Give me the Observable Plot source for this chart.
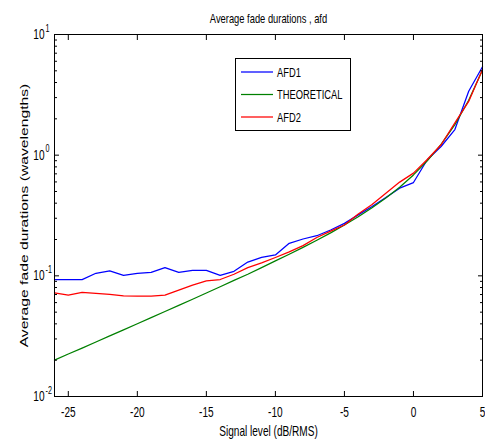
<!DOCTYPE html>
<html>
<head>
<meta charset="utf-8">
<script src="https://cdn.jsdelivr.net/npm/d3@7"></script>
<script src="https://cdn.jsdelivr.net/npm/@observablehq/plot@0.6"></script>
<style>
  html, body { margin: 0; padding: 0; background: #fff; }
  svg { display: block; }
</style>
</head>
<body>
<div id="chart"></div>
<script>
const signalLevel = [-26,-25,-24,-23,-22,-21,-20,-19,-18,-17,-16,-15,-14,-13,-12,-11,-10,-9,-8,-7,-6,-5,-4,-3,-2,-1,0,1,2,3,4,5];
const afd1 = [0.093,0.093,0.093,0.105,0.110,0.101,0.105,0.107,0.117,0.107,0.111,0.111,0.101,0.109,0.130,0.142,0.149,0.186,0.202,0.215,0.240,0.272,0.320,0.375,0.445,0.533,0.593,0.916,1.18,1.63,3.39,5.40];
const theoretical = [0.0200,0.0225,0.0252,0.0283,0.0318,0.0357,0.0401,0.0451,0.0506,0.0569,0.0640,0.0721,0.0812,0.0916,0.103,0.117,0.133,0.151,0.172,0.197,0.227,0.264,0.309,0.367,0.442,0.543,0.686,0.897,1.23,1.79,2.85,5.08];
const afd2 = [0.0722,0.0691,0.0728,0.0714,0.0702,0.0682,0.0678,0.0678,0.0691,0.0761,0.0838,0.0908,0.0932,0.103,0.117,0.128,0.142,0.158,0.178,0.208,0.235,0.264,0.326,0.390,0.484,0.598,0.710,0.920,1.22,1.85,2.79,5.13];

const seriesNames = ["AFD1", "THEORETICAL", "AFD2"];
const seriesColors = ["#0000ff", "#008000", "#ff0000"];
const xTicks = [-25, -20, -15, -10, -5, 0, 5];
const yDecades = [0.01, 0.1, 1, 10];
const yExponents = ["-2", "-1", "0", "1"];
const yMinor = [0.02,0.03,0.04,0.05,0.06,0.07,0.08,0.09,0.2,0.3,0.4,0.5,0.6,0.7,0.8,0.9,2,3,4,5,6,7,8,9];
const titleText = "Average fade durations , afd";
const xLabel = "Signal level (dB/RMS)";
const yLabel = "Average fade durations (wavelengths)";

const seriesValues = [afd1, theoretical, afd2];
const rows = [];
seriesNames.forEach((name, i) => {
  signalLevel.forEach((x, j) => rows.push({series: name, x, y: seriesValues[i][j]}));
});
const decadeRows = yDecades.map((v, i) => ({v, e: yExponents[i]}));

const FONT = "'Liberation Sans', Arial, Helvetica, sans-serif";
const SQ = 0.72; // horizontal squeeze of the original figure's glyphs

const chart = Plot.plot({
  width: 485,
  height: 439,
  marginLeft: 54,
  marginRight: 3,
  marginTop: 34,
  marginBottom: 43,
  style: {fontFamily: FONT, fontSize: "14px", color: "#000", background: "#fff"},
  x: {domain: [-26, 5]},
  y: {type: "log", domain: [0.01, 10]},
  color: {domain: seriesNames, range: seriesColors},
  marks: [
    Plot.line(rows, {x: "x", y: "y", z: "series", stroke: "series", strokeWidth: 1.25}),
    Plot.frame({stroke: "#000", strokeWidth: 1}),
    Plot.axisX({anchor: "bottom", ticks: xTicks, tickSize: -5, tickPadding: 16, tickFormat: d => String(d), label: null, fontSize: 14}),
    Plot.axisX({anchor: "top", ticks: xTicks, tickSize: -5, tickFormat: () => "", label: null}),
    Plot.axisY({anchor: "left", ticks: yDecades, tickSize: -5, tickFormat: () => "", label: null}),
    Plot.axisY({anchor: "right", ticks: yDecades, tickSize: -5, tickFormat: () => "", label: null}),
    Plot.axisY({anchor: "left", ticks: yMinor, tickSize: -3, tickFormat: () => "", label: null}),
    Plot.axisY({anchor: "right", ticks: yMinor, tickSize: -3, tickFormat: () => "", label: null}),
    Plot.text(decadeRows, {y: "v", text: () => "10", frameAnchor: "left", textAnchor: "end", lineAnchor: "middle", dx: -10, fontSize: 14}),
    Plot.text(decadeRows, {y: "v", text: "e", frameAnchor: "left", textAnchor: "start", lineAnchor: "middle", dx: -9, dy: -6, fontSize: 10}),
    Plot.text([titleText], {frameAnchor: "top", textAnchor: "middle", lineAnchor: "middle", dy: -16, fontSize: 13}),
    Plot.text([xLabel], {frameAnchor: "bottom", textAnchor: "middle", lineAnchor: "middle", dy: 35, fontSize: 14}),
    Plot.text([yLabel], {frameAnchor: "left", textAnchor: "middle", lineAnchor: "middle", rotate: -90, dx: -30, fontSize: 15.7})
  ]
});

// Squeeze every glyph horizontally, as in the original figure
d3.select(chart).selectAll("text").each(function () {
  const t = this.getAttribute("transform");
  if (t == null) {
    const x = this.getAttribute("x") || 0, y = this.getAttribute("y") || 0;
    this.removeAttribute("x"); this.removeAttribute("y");
    this.setAttribute("transform", `translate(${x},${y}) scale(${SQ},1)`);
  } else if (t.includes("rotate")) {
    this.setAttribute("transform", t.replace("rotate", `scale(${SQ},1) rotate`));
  } else {
    this.setAttribute("transform", `${t} scale(${SQ},1)`);
  }
});

// Legend box (MATLAB-style, inside plot area)
const lg = d3.select(chart).append("g").attr("font-family", FONT).attr("font-size", 13);
lg.append("rect").attr("x", 235.5).attr("y", 58.5).attr("width", 115).attr("height", 72)
  .attr("fill", "#fff").attr("stroke", "#000").attr("stroke-width", 1);
seriesNames.forEach((name, i) => {
  const yy = 72 + i * 22.5;
  lg.append("line").attr("x1", 241).attr("x2", 273).attr("y1", yy).attr("y2", yy)
    .attr("stroke", seriesColors[i]).attr("stroke-width", 1.25);
  lg.append("text").attr("transform", `translate(277,${yy}) scale(${SQ},1)`)
    .attr("dy", "0.35em").attr("text-anchor", "start").attr("fill", "#000").text(name);
});

document.getElementById("chart").appendChild(chart);
</script>
</body>
</html>
